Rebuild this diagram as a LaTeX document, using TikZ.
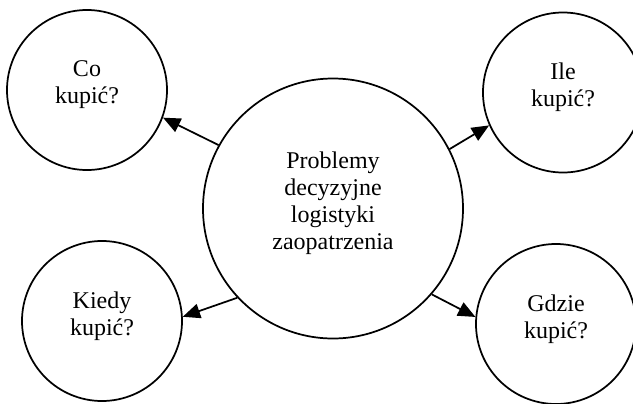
\documentclass[tikz,border=0pt]{standalone}
\usepackage{fontspec}
\setmainfont{Liberation Serif}
\usetikzlibrary{arrows.meta}
\begin{document}
\begin{tikzpicture}[x=0.75pt,y=-0.75pt,
  bubble/.style={circle,draw,line width=1.3pt,minimum size=120pt,inner sep=0pt,
    align=center,font=\fontsize{18}{20.25}\selectfont,text depth=11.3pt},
  hub/.style={bubble,minimum size=195pt},
  link/.style={line width=1.3pt,-{Triangle[length=13pt,width=11pt]}}]
\useasboundingbox (0,0) rectangle (633,404);
\clip (0,0) rectangle (633,404);
\node[hub] (c) at (333,208.5) {Problemy\\decyzyjne\\logistyki\\zaopatrzenia};
\node[bubble] (co) at (87,90) {Co\\kupić?};
\node[bubble] (ile) at (563,92.5) {Ile\\kupić?};
\node[bubble] (ki) at (102,321) {Kiedy\\kupić?};
\node[bubble] (gd) at (556,324) {Gdzie\\kupić?};
\draw[link] (c.151) -- (co.-20);
\draw[link] (c.27) -- (ile.204);
\draw[link] (c.223) -- (ki.3);
\draw[link] (c.-41) -- (gd.175);
\end{tikzpicture}
\end{document}
